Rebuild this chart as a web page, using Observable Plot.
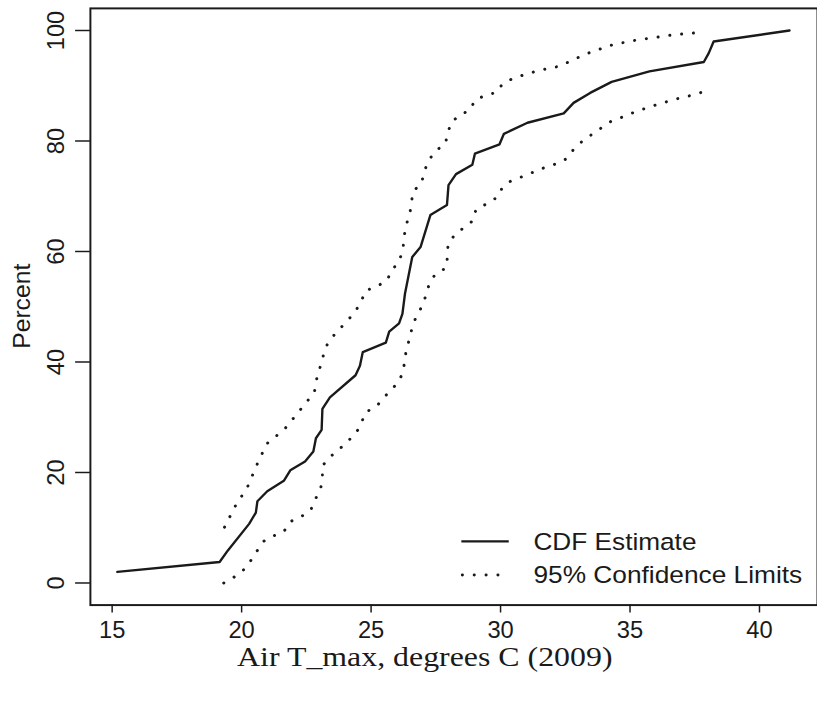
<!DOCTYPE html>
<html><head><meta charset="utf-8">
<script src="https://cdn.jsdelivr.net/npm/d3@7"></script>
<script src="https://cdn.jsdelivr.net/npm/@observablehq/plot@0.6"></script>
<style>
html,body{margin:0;padding:0;background:#fff;overflow:hidden;width:817px;height:706px;}
#chart{position:relative;width:817px;height:706px;overflow:hidden;}
</style></head><body><div id="chart"></div>
<script>
const cdfX = [15.2, 19.15, 19.47, 20.29, 20.55, 20.61, 20.99, 21.63, 21.88, 22.45, 22.77, 22.87, 23.09, 23.12, 23.41, 24.40, 24.57, 24.68, 25.57, 25.70, 26.08, 26.21, 26.31, 26.59, 26.91, 27.29, 27.93, 27.99, 28.28, 28.91, 29.01, 29.96, 30.13, 31.04, 32.44, 32.82, 33.46, 34.29, 35.75, 37.85, 38.04, 38.23, 41.16];
const cdfY = [2.0, 3.8, 5.9, 10.7, 12.75, 14.8, 16.6, 18.5, 20.4, 22.0, 23.8, 26.2, 27.7, 31.5, 33.6, 37.6, 39.3, 41.8, 43.5, 45.5, 47.0, 48.7, 52.4, 59.0, 60.8, 66.6, 68.4, 72.0, 74.0, 75.7, 77.7, 79.4, 81.3, 83.3, 85.0, 86.9, 88.7, 90.7, 92.6, 94.3, 95.9, 98.0, 100];

// Upper 95% confidence limit
const upperX = [19.34, 19.74, 20.23, 20.58, 20.97, 21.65, 22.24, 22.81, 22.88, 23.12, 23.23, 23.50, 23.79, 24.11, 24.40, 24.63, 24.79, 25.22, 25.61, 25.80, 26.08, 26.23, 26.27, 26.34, 26.49, 26.56, 26.61, 26.95, 27.06, 27.23, 27.48, 27.86, 27.96, 28.08, 28.43, 28.82, 29.01, 29.39, 29.84, 30.09, 30.47, 30.92, 31.36, 31.81, 32.25, 32.67, 33.08, 33.50, 33.94, 34.38, 34.84, 35.28, 35.75, 36.20, 36.64, 37.11, 37.60];
const upperY = [10.1, 13.8, 17.4, 21.3, 25.2, 27.8, 31.2, 34.5, 36.6, 40.5, 42.6, 44.5, 46.0, 47.6, 49.2, 51.1, 52.9, 53.7, 54.7, 56.6, 58.2, 60.3, 62.4, 64.6, 66.7, 68.7, 70.8, 72.4, 74.6, 76.5, 78.2, 79.4, 81.3, 83.3, 84.7, 85.6, 87.4, 88.2, 88.8, 90.4, 91.3, 92.0, 92.6, 93.1, 93.5, 94.4, 95.3, 96.1, 96.8, 97.5, 97.9, 98.3, 98.6, 98.9, 99.2, 99.4, 99.6];

// Lower 95% confidence limit
const lowerX = [19.31, 19.72, 20.08, 20.36, 20.61, 20.83, 21.22, 21.63, 21.88, 22.30, 22.67, 22.84, 23.05, 23.12, 23.12, 23.41, 23.77, 24.11, 24.43, 24.63, 24.78, 25.16, 25.45, 25.70, 26.04, 26.23, 26.30, 26.36, 26.50, 26.59, 26.76, 26.97, 27.13, 27.25, 27.48, 27.89, 27.95, 27.97, 28.22, 28.58, 28.94, 29.05, 29.45, 29.87, 30.05, 30.38, 30.81, 31.23, 31.65, 32.10, 32.51, 32.79, 33.12, 33.50, 33.87, 34.25, 34.69, 35.11, 35.53, 35.98, 36.42, 36.87, 37.32, 37.76];
const lowerY = [0.0, 1.1, 2.4, 4.1, 5.9, 7.5, 8.5, 9.3, 11.1, 12.0, 13.2, 15.1, 17.0, 19.0, 21.2, 22.8, 24.2, 25.7, 27.2, 29.0, 30.9, 31.8, 33.2, 34.7, 36.2, 38.1, 40.2, 42.3, 44.4, 46.4, 48.4, 50.1, 52.2, 54.2, 55.9, 57.0, 59.0, 61.2, 63.0, 64.3, 65.6, 67.6, 68.6, 69.8, 71.4, 72.7, 73.5, 74.3, 75.1, 75.8, 76.7, 78.3, 79.8, 81.1, 82.3, 83.5, 84.3, 85.1, 85.8, 86.5, 87.1, 87.7, 88.2, 88.8];

const xTicks = [15, 20, 25, 30, 35, 40];
const yTicks = [0, 20, 40, 60, 80, 100];
const xTitle = "Air T_max, degrees C (2009)";
const yTitle = "Percent";
const legendLabels = ["CDF Estimate", "95% Confidence Limits"];

const rows = (xs, ys) => xs.map((x, i) => ({x, y: ys[i]}));
const cdf = rows(cdfX, cdfY);
const upper = rows(upperX, upperY);
const lower = rows(lowerX, lowerY);

const ink = "#1a1a1a";
const dotted = {x: "x", y: "y", stroke: ink, strokeWidth: 3, strokeDasharray: "0.1 11.9", strokeLinecap: "round"};

const plot = Plot.plot({
  width: 827, height: 706,
  marginLeft: 91, marginRight: 0, marginTop: 8, marginBottom: 94,
  style: {fontFamily: "'Liberation Sans', Arial, sans-serif", background: "white", color: ink, overflow: "visible"},
  x: {domain: [14.16, 42.24]},
  y: {domain: [-4, 104]},
  marks: [
    Plot.line(upper, dotted),
    Plot.line(lower, dotted),
    Plot.line(cdf, {x: "x", y: "y", stroke: ink, strokeWidth: 2.4}),
    Plot.frame({stroke: ink, strokeWidth: 2}),
    Plot.axisX({ticks: xTicks, tickSize: 8, tickPadding: 8, fontSize: 24, label: null, strokeWidth: 1.5}),
    Plot.axisY({ticks: yTicks, tickSize: 15, tickPadding: 12, tickRotate: -90, fontSize: 24, label: null, strokeWidth: 1.5})
  ]
});
document.getElementById("chart").appendChild(plot);

const svg = d3.select(plot);
// axis titles
svg.append("text").text(xTitle)
  .attr("x", 430).attr("y", 674).attr("text-anchor", "middle")
  .attr("font-family", "'Liberation Serif', 'Times New Roman', serif").attr("font-size", 27)
  .attr("textLength", 380).attr("lengthAdjust", "spacingAndGlyphs").attr("fill", ink);
svg.append("text").text(yTitle)
  .attr("transform", "translate(30,310) rotate(-90)").attr("text-anchor", "middle")
  .attr("font-size", 25).attr("fill", ink);

// legend
const lg = svg.append("g").attr("text-anchor", "start");
lg.append("line").attr("x1", 467).attr("x2", 515).attr("y1", 548).attr("y2", 548)
  .attr("stroke", ink).attr("stroke-width", 2.4);
lg.append("line").attr("x1", 468).attr("x2", 508).attr("y1", 582).attr("y2", 582)
  .attr("stroke", ink).attr("stroke-width", 3).attr("stroke-dasharray", "0.1 11.9").attr("stroke-linecap", "round");
lg.append("text").text(legendLabels[0]).attr("x", 540).attr("y", 557).attr("font-size", 24)
  .attr("text-anchor", "start")
  .attr("textLength", 165).attr("lengthAdjust", "spacingAndGlyphs").attr("fill", ink);
lg.append("text").text(legendLabels[1]).attr("x", 540).attr("y", 590).attr("font-size", 24)
  .attr("text-anchor", "start")
  .attr("textLength", 272).attr("lengthAdjust", "spacingAndGlyphs").attr("fill", ink);
</script></body></html>
